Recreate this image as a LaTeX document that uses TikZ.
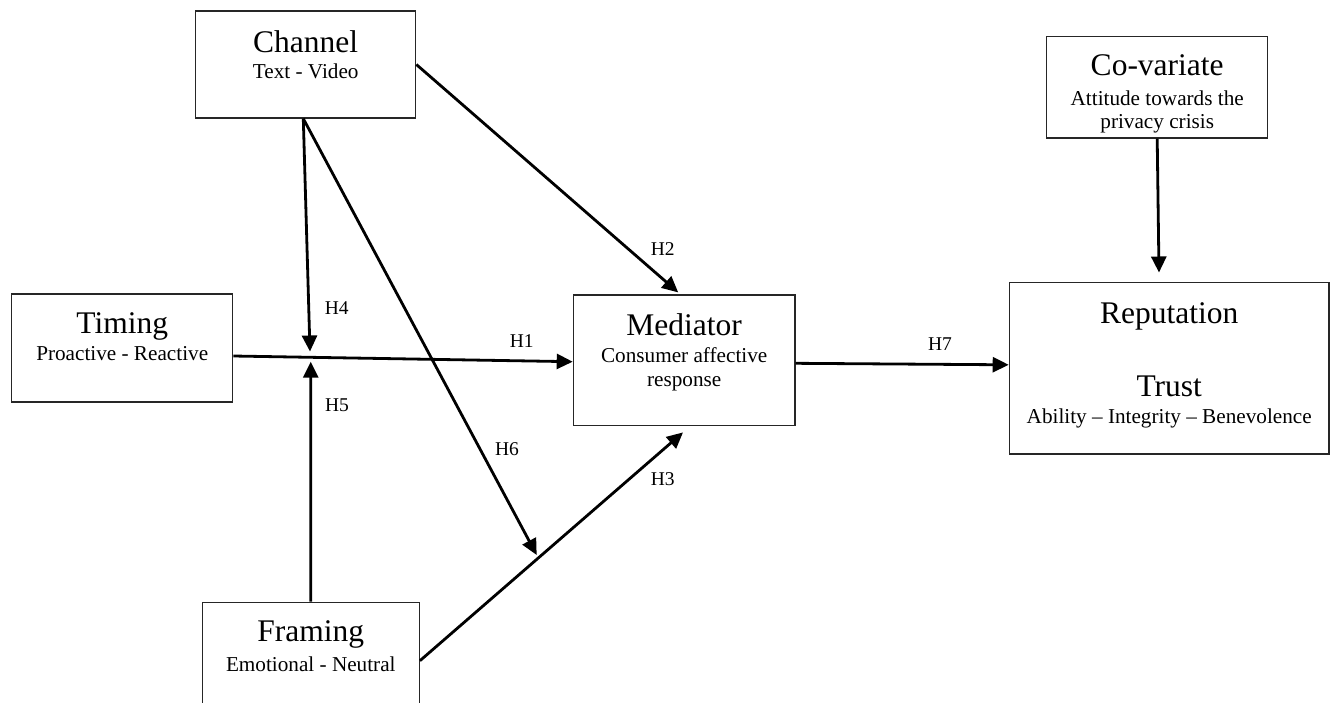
\documentclass[tikz,border=0pt]{standalone}
\usepackage{fontspec}
\setmainfont{Liberation Serif}
\usetikzlibrary{arrows.meta,calc}
\begin{document}
\begin{tikzpicture}[x=1pt,y=-1pt,
  box/.style={draw=black!85,line width=1.3pt,rectangle,inner sep=0pt,fill=white},
  ttl/.style={anchor=base,inner sep=0pt,font=\fontsize{31.5}{36}\selectfont},
  sub/.style={anchor=base,inner sep=0pt,font=\fontsize{21.2}{24.5}\selectfont,align=center},
  hyp/.style={anchor=base,inner sep=0pt,font=\fontsize{19.5}{22}\selectfont},
  conn/.style={line width=2.8pt,-{Triangle[length=16pt,width=15pt]}},
  plain/.style={line width=2.8pt}]
\clip (0,0) rectangle (1330,702);
\fill[white] (0,0) rectangle (1330,702);
% boxes
\node[box,minimum width=220pt,minimum height=107pt] (ch) at (305.7,64.5) {};
\node[box,minimum width=221pt,minimum height=101.3pt] (cov) at (1157.2,87.3) {};
\node[box,minimum width=221pt,minimum height=108pt] (tim) at (122.2,348) {};
\node[box,minimum width=221.7pt,minimum height=130.7pt] (med) at (684.2,360.4) {};
\node[box,minimum width=319.7pt,minimum height=171.3pt] (rep) at (1169.2,368.3) {};
\node[box,minimum width=217pt,minimum height=116.8pt] (fr) at (310.8,660.7) {};
% texts
\node[ttl] (chT) at (305.7,52) {Channel};
\node[sub] (chS) at (305.7,78) {Text - Video};
\node[ttl] (covT) at (1157.2,75) {Co-variate};
\node[sub] (covS1) at (1157.2,105) {Attitude towards the};
\node[sub] (covS2) at (1157.2,128.5) {privacy crisis};
\node[ttl] (timT) at (122.2,333.3) {Timing};
\node[sub] (timS) at (122.2,360.7) {Proactive - Reactive};
\node[ttl] (medT) at (684.2,335) {Mediator};
\node[sub] (medS1) at (684.2,362.7) {Consumer affective};
\node[sub] (medS2) at (684.2,386.5) {response};
\node[ttl] (repT) at (1169.2,323.3) {Reputation};
\node[ttl] (repT2) at (1169.2,396.7) {Trust};
\node[sub] (repS) at (1169.2,423.3) {Ability – Integrity – Benevolence};
\node[ttl] (frT) at (310.8,641.7) {Framing};
\node[sub] (frS) at (310.8,671) {Emotional - Neutral};
% coordinates
\coordinate (chB) at ($(ch.south)+(-2.4,0)$);
\coordinate (jTop) at (310,351.5);
\coordinate (jBot) at (310.7,361.7);
\coordinate (timOut) at ($(tim.east)+(0,8)$);
\coordinate (medIn) at ($(med.west)+(0,1.3)$);
\coordinate (medTop) at ($(med.north)+(-6,-2)$);
\coordinate (medBot) at ($(med.south)+(-1.2,6)$);
\coordinate (h6tip) at (536.7,555);
\coordinate (medOut) at ($(med.east)+(0,2.9)$);
\coordinate (repIn) at ($(rep.west)+(0,-3.5)$);
\coordinate (repTop) at ($(rep.north)+(-10.2,-9.5)$);
\coordinate (covB) at ($(cov.south)+(0,0)$);
% connectors
\draw[conn] (ch.east) -- (medTop);
\draw[conn] (chB) -- (jTop);
\draw[conn] (chB) -- (h6tip);
\draw[conn] (timOut) -- (medIn);
\draw[conn] (fr.north) -- (jBot);
\draw[conn] (fr.east) -- (medBot);
\draw[conn] (medOut) -- (repIn);
\draw[conn] (covB) -- (repTop);
% labels
\node[hyp] (lH2) at (662.7,255) {H2};
\node[hyp] (lH4) at (336.7,314.3) {H4};
\node[hyp] (lH1) at (521.7,347.7) {H1};
\node[hyp] (lH5) at (337,411) {H5};
\node[hyp] (lH6) at (507,455) {H6};
\node[hyp] (lH3) at (662.7,485.7) {H3};
\node[hyp] (lH7) at (940,350) {H7};
\end{tikzpicture}
\end{document}
